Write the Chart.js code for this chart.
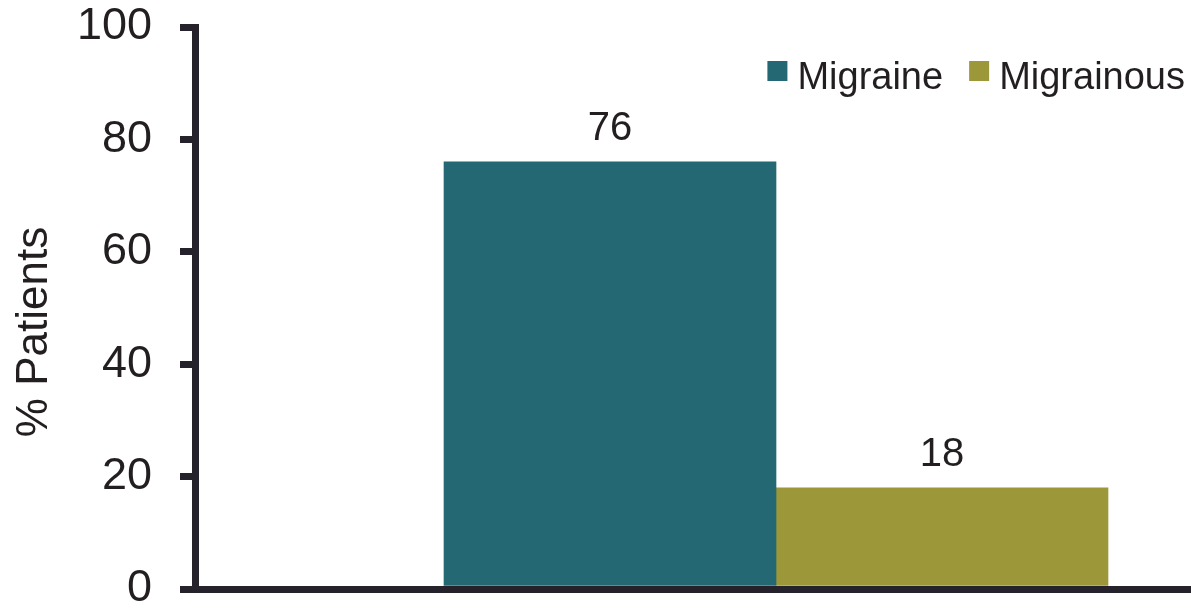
<!DOCTYPE html>
<html>
<head>
<meta charset="utf-8">
<script src="https://cdn.jsdelivr.net/npm/chart.js@4.4.1/dist/chart.umd.min.js"></script>
<style>
  html, body { margin: 0; padding: 0; background: #fff; }
</style>
</head>
<body>
<canvas id="migraineChart" width="1191" height="609"></canvas>
<script>
const seriesNames = ["Migraine", "Migrainous"];
const seriesValues = [76, 18];
const seriesColors = ["#236872", "#9c9739"];
const barSlots = [1, 2]; // where each bar sits on the x axis
const yTicks = [0, 20, 40, 60, 80, 100];
const yTitle = "% Patients";

const ink = "#231f20";
const axisInk = "#25222b";
const fontFamily = "'Liberation Sans', Arial, Helvetica, sans-serif";

// numbers above the bars
const valueLabels = {
  id: "valueLabels",
  afterDatasetsDraw(chart) {
    const ctx = chart.ctx;
    ctx.save();
    ctx.font = "40px " + fontFamily;
    ctx.fillStyle = ink;
    ctx.textAlign = "center";
    ctx.textBaseline = "alphabetic";
    chart.data.datasets.forEach((ds, i) => {
      chart.getDatasetMeta(i).data.forEach((bar, j) => {
        ctx.fillText(String(ds.data[j].y), bar.x, bar.y - 22);
      });
    });
    ctx.restore();
  },
};

// legend sits inside the plot, top right
const topLegend = {
  id: "topLegend",
  afterDraw(chart) {
    const { ctx, chartArea } = chart;
    ctx.save();
    ctx.font = "38px " + fontFamily;
    ctx.textBaseline = "alphabetic";
    const box = 20, textGap = 10, itemGap = 26;
    const items = chart.data.datasets.map((ds) => ({
      label: ds.label,
      color: ds.backgroundColor,
      w: ctx.measureText(ds.label).width,
    }));
    let total = items.reduce((s, it) => s + box + textGap + it.w, 0) + itemGap * (items.length - 1);
    let x = chartArea.right - 6 - total;
    items.forEach((it) => {
      ctx.fillStyle = it.color;
      ctx.fillRect(x, 61, box, box);
      ctx.fillStyle = ink;
      ctx.fillText(it.label, x + box + textGap, 89);
      x += box + textGap + it.w + itemGap;
    });
    ctx.restore();
  },
};

// rotated y title, a bit below the middle like the original
const yAxisTitle = {
  id: "yAxisTitle",
  afterDraw(chart) {
    const { ctx, chartArea } = chart;
    ctx.save();
    ctx.translate(35, (chartArea.top + chartArea.bottom) / 2 + 24);
    ctx.rotate(-Math.PI / 2);
    ctx.font = "44px " + fontFamily;
    ctx.fillStyle = ink;
    ctx.textAlign = "center";
    ctx.textBaseline = "middle";
    ctx.fillText(yTitle, 0, 0);
    ctx.restore();
  },
};

const ctx = document.getElementById("migraineChart").getContext("2d");

new Chart(ctx, {
  type: "bar",
  data: {
    datasets: seriesNames.map((name, i) => ({
      label: name,
      data: [{ x: barSlots[i], y: seriesValues[i] }],
      backgroundColor: seriesColors[i],
      borderWidth: 0,
      grouped: false,
      barPercentage: 1,
      categoryPercentage: 1,
    })),
  },
  options: {
    responsive: false,
    animation: false,
    devicePixelRatio: 1,
    layout: {
      padding: { left: 77, top: 27, right: 0, bottom: 20 },
    },
    plugins: {
      legend: { display: false },
      tooltip: { enabled: false },
    },
    scales: {
      x: {
        type: "linear",
        min: -0.25,
        max: 2.75,
        offset: false,
        afterBuildTicks: (scale) => {
          scale.ticks = barSlots.map((v) => ({ value: v }));
        },
        afterFit: (scale) => {
          scale.height = 0;
          scale.paddingLeft = 0;
          scale.paddingRight = 0;
        },
        ticks: { display: false },
        grid: { display: true, drawOnChartArea: false, drawTicks: false },
        border: { display: true, width: 7, color: axisInk },
      },
      y: {
        min: 0,
        max: 100,
        afterBuildTicks: (scale) => {
          scale.ticks = yTicks.map((v) => ({ value: v }));
        },
        afterFit: (scale) => {
          scale.width = 118;
          scale.paddingTop = 0;
          scale.paddingBottom = 0;
        },
        ticks: {
          color: ink,
          padding: 28,
          font: { family: fontFamily, size: 45 },
        },
        grid: {
          drawOnChartArea: false,
          drawTicks: true,
          tickLength: 15,
          lineWidth: 7,
          color: axisInk,
        },
        border: { display: true, width: 7, color: axisInk },
      },
    },
  },
  plugins: [valueLabels, topLegend, yAxisTitle],
});
</script>
</body>
</html>
